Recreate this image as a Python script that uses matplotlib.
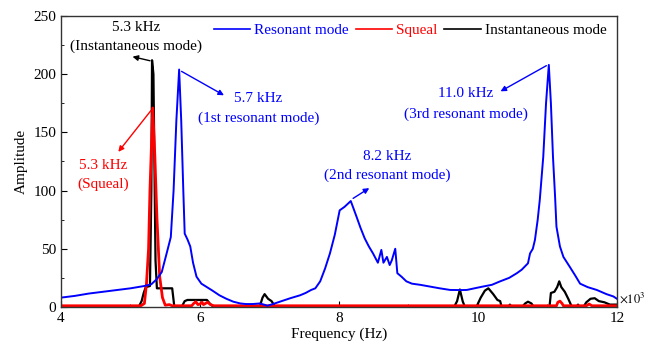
import numpy as np
import matplotlib
matplotlib.use("Agg")
import matplotlib.pyplot as plt
from matplotlib.ticker import MultipleLocator

plt.rcParams['font.family'] = ['Liberation Serif', 'DejaVu Serif']
plt.rcParams['mathtext.fontset'] = 'stix'

# frequency in kHz (axis shows x10^3 Hz)
res_f = [4.0, 4.2, 4.4, 4.6, 4.8, 5.0, 5.2, 5.3, 5.38, 5.45, 5.52, 5.58, 5.62, 5.66, 5.70,
         5.73, 5.76, 5.78, 5.82, 5.86, 5.90, 5.95, 6.02, 6.10, 6.18, 6.28, 6.38, 6.48, 6.58,
         6.66, 6.76, 6.86, 6.92, 6.97, 7.05, 7.15, 7.30, 7.44, 7.52, 7.60, 7.66, 7.73, 7.80,
         7.87, 7.94, 8.01, 8.08, 8.17, 8.25, 8.31, 8.37, 8.43, 8.49, 8.56, 8.61, 8.64, 8.69,
         8.73, 8.76, 8.81, 8.84, 8.90, 8.97, 9.05, 9.17, 9.31, 9.45, 9.60, 9.75, 9.84, 9.95,
         10.07, 10.2, 10.32, 10.45, 10.56, 10.63, 10.72, 10.75, 10.79, 10.82, 10.86, 10.89,
         10.94, 10.98, 11.02, 11.05, 11.08, 11.11, 11.13, 11.18, 11.23, 11.32, 11.40, 11.47,
         11.58, 11.71, 11.85, 11.95, 12.0]
res_a = [8, 9.5, 11.5, 13, 14.5, 16, 18, 19.5, 24, 30, 46, 60, 100, 160, 204,
         160, 100, 63, 58, 52, 38, 26, 20, 17, 14, 10, 7, 4.5, 3,
         2.5, 2.5, 3, 2, 1, 2.5, 4.5, 7.5, 10, 12, 14.6, 16, 22, 33,
         46, 62, 83, 86, 91, 78, 68, 59, 52, 46, 38, 49, 38, 43,
         36, 40, 50, 29, 26, 22, 20, 19, 17.5, 16, 14.6, 14.5, 14.6, 16,
         17.5, 19, 22, 25, 29, 32, 37.5, 46, 50, 57.5, 75, 92,
         129, 175, 208, 175, 129, 95, 69, 52, 43, 34.6, 27, 20,
         17, 14.6, 11, 9, 7]

sq_f = [4.0, 5.15, 5.20, 5.23, 5.26, 5.28, 5.32, 5.35, 5.38, 5.42, 5.46, 5.50, 5.56, 5.60,
        5.88, 5.91, 5.94, 5.97, 6.00, 6.03, 6.05, 6.08, 6.11, 6.15, 6.20,
        11.13, 11.15, 11.18, 11.21, 11.23, 11.56, 11.60, 11.64, 12.0]
sq_a = [1, 1, 3, 20, 50, 100, 171, 130, 77, 26, 8, 1.5, 2, 1,
        1, 3, 4.5, 2, 2.5, 4, 2, 3, 4, 2, 1,
        1, 4, 5, 3, 1, 1, 2.5, 1, 1]

inst_f = [4.0, 5.12, 5.16, 5.19, 5.22, 5.28, 5.30, 5.31, 5.33, 5.36, 5.38, 5.60, 5.63, 5.74,
          5.78, 5.82, 6.10, 6.14, 6.19, 6.86, 6.90, 6.93, 6.98, 7.03, 7.08,
          9.66, 9.70, 9.74, 9.78, 9.81, 9.98, 10.04, 10.10, 10.15, 10.22, 10.28, 10.32, 10.34,
          10.44, 10.46, 10.48, 10.64, 10.68, 10.72, 10.77, 10.80,
          11.03, 11.05, 11.10, 11.14, 11.17, 11.20, 11.25, 11.30, 11.35,
          11.42, 11.44, 11.46, 11.52, 11.56, 11.62, 11.68, 11.74, 11.82, 11.90, 12.0]
inst_a = [0.3, 0.3, 5, 12, 17, 18, 100, 212, 200, 40, 16, 16, 0.5, 0.5,
          5, 6, 6, 3, 0.3, 0.3, 8, 11, 7, 5, 0.3,
          0.3, 5, 15, 5, 0.3, 0.3, 8, 14, 16, 11, 6, 5, 0.3,
          0.3, 2, 0.3, 0.3, 3, 4.5, 3, 0.3,
          0.3, 12, 13, 17, 22, 17, 13, 7, 0.3,
          0.3, 2, 0.3, 0.3, 4, 7, 7.5, 5, 4, 2, 2]

fig = plt.figure(figsize=(6.61, 3.48), dpi=100)
ax = fig.add_axes([0.0923, 0.118, 0.841, 0.836])

l_inst, = ax.plot(inst_f, inst_a, color='black', lw=1.6, label='Instantaneous mode')
l_sq, = ax.plot(sq_f, sq_a, color='red', lw=2.0, label='Squeal')
l_res, = ax.plot(res_f, res_a, color='blue', lw=1.4, label='Resonant mode')

ax.set_xlim(4, 12)
ax.set_ylim(0, 250)
ax.xaxis.set_major_locator(MultipleLocator(2))
ax.xaxis.set_minor_locator(MultipleLocator(1))
ax.yaxis.set_major_locator(MultipleLocator(50))
ax.yaxis.set_minor_locator(MultipleLocator(25))
ax.tick_params(which='both', direction='in', labelsize=11)
ax.tick_params(which='major', length=4)
ax.tick_params(which='minor', length=2.5)
for s in ax.spines.values():
    s.set_color('#333333')
    s.set_linewidth(1.0)

ax.set_xlabel('Frequency (Hz)', fontsize=11, labelpad=2)
ax.set_ylabel('Amplitude', fontsize=11, labelpad=4)
ax.text(1.004, 0.028, r'$\times10^3$', transform=ax.transAxes, fontsize=9,
        ha='left', va='center')

leg = ax.legend(handles=[l_res, l_sq, l_inst], loc='upper right', ncol=3,
                frameon=False, fontsize=11, handlelength=2.4, handletextpad=0.25,
                columnspacing=0.45, borderaxespad=0.1, labelcolor='linecolor',
                bbox_to_anchor=(0.995, 1.0))
for h in leg.legend_handles:
    h.set_linewidth(1.2)

ap = dict(arrowstyle='-|>', lw=1.0, mutation_scale=8)
ax.annotate('', xy=(4.99, 215.6), xytext=(5.32, 211), arrowprops=dict(ap, color='black'))
ax.text(5.08, 240.5, '5.3 kHz', ha='center', va='center', fontsize=11, color='black')
ax.text(5.08, 224, '(Instantaneous mode)', ha='center', va='center', fontsize=11, color='black')

ax.annotate('', xy=(4.80, 131.4), xytext=(5.32, 170.7), arrowprops=dict(ap, color='red'))
ax.text(4.60, 121.4, '5.3 kHz', ha='center', va='center', fontsize=11, color='red')
ax.text(4.60, 105, '(Squeal)', ha='center', va='center', fontsize=11, color='red')

ax.annotate('', xy=(6.38, 180.7), xytext=(5.70, 203.6), arrowprops=dict(ap, color='blue'))
ax.text(6.84, 178.7, '5.7 kHz', ha='center', va='center', fontsize=11, color='blue')
ax.text(6.84, 162.1, '(1st resonant mode)', ha='center', va='center', fontsize=11, color='blue')

ax.annotate('', xy=(8.47, 103.4), xytext=(8.17, 92), arrowprops=dict(ap, color='blue'))
ax.text(8.69, 129.7, '8.2 kHz', ha='center', va='center', fontsize=11, color='blue')
ax.text(8.69, 113.4, '(2nd resonant mode)', ha='center', va='center', fontsize=11, color='blue')

ax.annotate('', xy=(10.29, 184.1), xytext=(11.02, 208.5), arrowprops=dict(ap, color='blue'))
ax.text(9.83, 183, '11.0 kHz', ha='center', va='center', fontsize=11, color='blue')
ax.text(9.83, 165.8, '(3rd resonant mode)', ha='center', va='center', fontsize=11, color='blue')

fig.savefig('out.png', dpi=100)
